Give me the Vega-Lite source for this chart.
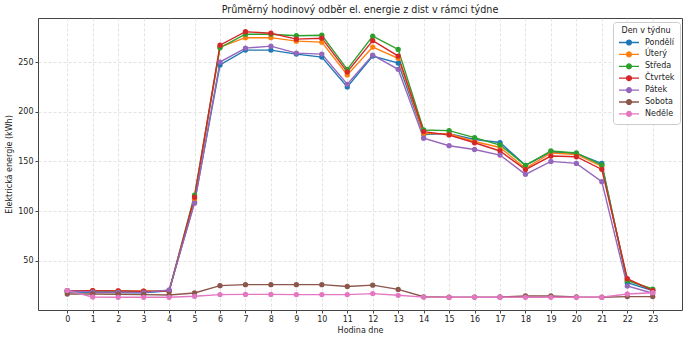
{
  "$schema": "https://vega.github.io/schema/vega-lite/v6.json",
  "autosize": {"type": "none"},
  "width": 644,
  "height": 292,
  "padding": {"left": 38, "top": 18, "right": 8, "bottom": 31},
  "background": "white",
  "title": {"text": "Průměrný hodinový odběr el. energie z dist v rámci týdne", "font": "DejaVu Sans", "fontSize": 9.6, "fontWeight": "normal", "color": "#222", "offset": 3, "anchor": "middle"},
  "config": {
    "view": {"stroke": "#444", "strokeWidth": 1},
    "axis": {"labelFont": "DejaVu Sans", "titleFont": "DejaVu Sans", "labelFontSize": 8, "titleFontSize": 8, "titleFontWeight": "normal", "labelColor": "#222", "titleColor": "#222", "tickColor": "#444", "tickSize": 3, "domain": false, "gridColor": "#cccccc", "gridDash": [3, 2], "gridOpacity": 0.8, "gridWidth": 0.7}
  },
  "data": {"values": [
    {"h":0,"d":"Pondělí","v":18.5},{"h":1,"d":"Pondělí","v":18.3},{"h":2,"d":"Pondělí","v":18},{"h":3,"d":"Pondělí","v":17.8},{"h":4,"d":"Pondělí","v":19.7},{"h":5,"d":"Pondělí","v":109},{"h":6,"d":"Pondělí","v":247},{"h":7,"d":"Pondělí","v":262},{"h":8,"d":"Pondělí","v":262},{"h":9,"d":"Pondělí","v":258},{"h":10,"d":"Pondělí","v":255},{"h":11,"d":"Pondělí","v":225},{"h":12,"d":"Pondělí","v":256},{"h":13,"d":"Pondělí","v":249},{"h":14,"d":"Pondělí","v":177},{"h":15,"d":"Pondělí","v":178},{"h":16,"d":"Pondělí","v":172},{"h":17,"d":"Pondělí","v":169},{"h":18,"d":"Pondělí","v":146},{"h":19,"d":"Pondělí","v":159.5},{"h":20,"d":"Pondělí","v":158},{"h":21,"d":"Pondělí","v":148},{"h":22,"d":"Pondělí","v":28},{"h":23,"d":"Pondělí","v":20},
    {"h":0,"d":"Úterý","v":19.5},{"h":1,"d":"Úterý","v":20},{"h":2,"d":"Úterý","v":19.7},{"h":3,"d":"Úterý","v":19.4},{"h":4,"d":"Úterý","v":19.5},{"h":5,"d":"Úterý","v":112},{"h":6,"d":"Úterý","v":265},{"h":7,"d":"Úterý","v":274.5},{"h":8,"d":"Úterý","v":274.5},{"h":9,"d":"Úterý","v":271},{"h":10,"d":"Úterý","v":270},{"h":11,"d":"Úterý","v":237},{"h":12,"d":"Úterý","v":265},{"h":13,"d":"Úterý","v":253.7},{"h":14,"d":"Úterý","v":178},{"h":15,"d":"Úterý","v":178},{"h":16,"d":"Úterý","v":170},{"h":17,"d":"Úterý","v":164},{"h":18,"d":"Úterý","v":143},{"h":19,"d":"Úterý","v":158.5},{"h":20,"d":"Úterý","v":157},{"h":21,"d":"Úterý","v":145},{"h":22,"d":"Úterý","v":31},{"h":23,"d":"Úterý","v":21},
    {"h":0,"d":"Středa","v":19.5},{"h":1,"d":"Středa","v":19.5},{"h":2,"d":"Středa","v":19.3},{"h":3,"d":"Středa","v":19},{"h":4,"d":"Středa","v":19.5},{"h":5,"d":"Středa","v":116},{"h":6,"d":"Středa","v":264.4},{"h":7,"d":"Středa","v":278},{"h":8,"d":"Středa","v":278},{"h":9,"d":"Středa","v":276.5},{"h":10,"d":"Středa","v":277},{"h":11,"d":"Středa","v":242.6},{"h":12,"d":"Středa","v":276},{"h":13,"d":"Středa","v":262.7},{"h":14,"d":"Středa","v":181.6},{"h":15,"d":"Středa","v":181},{"h":16,"d":"Středa","v":174},{"h":17,"d":"Středa","v":166.5},{"h":18,"d":"Středa","v":146},{"h":19,"d":"Středa","v":160.5},{"h":20,"d":"Středa","v":158.5},{"h":21,"d":"Středa","v":146.4},{"h":22,"d":"Středa","v":30},{"h":23,"d":"Středa","v":21.6},
    {"h":0,"d":"Čtvrtek","v":20},{"h":1,"d":"Čtvrtek","v":20},{"h":2,"d":"Čtvrtek","v":19.7},{"h":3,"d":"Čtvrtek","v":19.4},{"h":4,"d":"Čtvrtek","v":19.5},{"h":5,"d":"Čtvrtek","v":114},{"h":6,"d":"Čtvrtek","v":267},{"h":7,"d":"Čtvrtek","v":280.5},{"h":8,"d":"Čtvrtek","v":279},{"h":9,"d":"Čtvrtek","v":273},{"h":10,"d":"Čtvrtek","v":274},{"h":11,"d":"Čtvrtek","v":240},{"h":12,"d":"Čtvrtek","v":271.5},{"h":13,"d":"Čtvrtek","v":256},{"h":14,"d":"Čtvrtek","v":180},{"h":15,"d":"Čtvrtek","v":176.6},{"h":16,"d":"Čtvrtek","v":168.8},{"h":17,"d":"Čtvrtek","v":160.5},{"h":18,"d":"Čtvrtek","v":141.8},{"h":19,"d":"Čtvrtek","v":155.4},{"h":20,"d":"Čtvrtek","v":154.7},{"h":21,"d":"Čtvrtek","v":142},{"h":22,"d":"Čtvrtek","v":32},{"h":23,"d":"Čtvrtek","v":20},
    {"h":0,"d":"Pátek","v":20},{"h":1,"d":"Pátek","v":18.5},{"h":2,"d":"Pátek","v":18.3},{"h":3,"d":"Pátek","v":18},{"h":4,"d":"Pátek","v":20.7},{"h":5,"d":"Pátek","v":108},{"h":6,"d":"Pátek","v":250},{"h":7,"d":"Pátek","v":264},{"h":8,"d":"Pátek","v":266},{"h":9,"d":"Pátek","v":259},{"h":10,"d":"Pátek","v":258},{"h":11,"d":"Pátek","v":227.6},{"h":12,"d":"Pátek","v":257},{"h":13,"d":"Pátek","v":242.7},{"h":14,"d":"Pátek","v":173.3},{"h":15,"d":"Pátek","v":165.8},{"h":16,"d":"Pátek","v":162},{"h":17,"d":"Pátek","v":156.4},{"h":18,"d":"Pátek","v":137},{"h":19,"d":"Pátek","v":150},{"h":20,"d":"Pátek","v":148},{"h":21,"d":"Pátek","v":129.6},{"h":22,"d":"Pátek","v":24.6},{"h":23,"d":"Pátek","v":17.4},
    {"h":0,"d":"Sobota","v":16.6},{"h":1,"d":"Sobota","v":16.6},{"h":2,"d":"Sobota","v":16.4},{"h":3,"d":"Sobota","v":16},{"h":4,"d":"Sobota","v":15.6},{"h":5,"d":"Sobota","v":17.6},{"h":6,"d":"Sobota","v":25},{"h":7,"d":"Sobota","v":26},{"h":8,"d":"Sobota","v":26},{"h":9,"d":"Sobota","v":26},{"h":10,"d":"Sobota","v":26},{"h":11,"d":"Sobota","v":24.2},{"h":12,"d":"Sobota","v":25.5},{"h":13,"d":"Sobota","v":21.2},{"h":14,"d":"Sobota","v":13.8},{"h":15,"d":"Sobota","v":13.4},{"h":16,"d":"Sobota","v":13.5},{"h":17,"d":"Sobota","v":13.6},{"h":18,"d":"Sobota","v":14.6},{"h":19,"d":"Sobota","v":14.6},{"h":20,"d":"Sobota","v":13.6},{"h":21,"d":"Sobota","v":13.4},{"h":22,"d":"Sobota","v":14},{"h":23,"d":"Sobota","v":14},
    {"h":0,"d":"Neděle","v":20},{"h":1,"d":"Neděle","v":13.6},{"h":2,"d":"Neděle","v":13.3},{"h":3,"d":"Neděle","v":13.3},{"h":4,"d":"Neděle","v":13.3},{"h":5,"d":"Neděle","v":14.3},{"h":6,"d":"Neděle","v":16},{"h":7,"d":"Neděle","v":16.2},{"h":8,"d":"Neděle","v":16.2},{"h":9,"d":"Neděle","v":16},{"h":10,"d":"Neděle","v":16},{"h":11,"d":"Neděle","v":16},{"h":12,"d":"Neděle","v":17},{"h":13,"d":"Neděle","v":15.3},{"h":14,"d":"Neděle","v":13.5},{"h":15,"d":"Neděle","v":13.3},{"h":16,"d":"Neděle","v":13.4},{"h":17,"d":"Neděle","v":13.4},{"h":18,"d":"Neděle","v":13.3},{"h":19,"d":"Neděle","v":13.3},{"h":20,"d":"Neděle","v":13.3},{"h":21,"d":"Neděle","v":13.3},{"h":22,"d":"Neděle","v":16.6},{"h":23,"d":"Neděle","v":17.9}
  ]},
  "mark": {"type": "line", "strokeWidth": 1.4, "point": {"filled": true, "size": 28, "opacity": 1}},
  "encoding": {
    "x": {"field": "h", "type": "quantitative", "title": "Hodina dne",
      "scale": {"domain": [-1.15, 24.15], "nice": false, "zero": false},
      "axis": {"values": [0,1,2,3,4,5,6,7,8,9,10,11,12,13,14,15,16,17,18,19,20,21,22,23], "labelPadding": 2, "titlePadding": 3, "labelFlush": false}},
    "y": {"field": "v", "type": "quantitative", "title": "Elektrická energie (kWh)",
      "scale": {"domain": [0.5, 294.3], "nice": false, "zero": false},
      "axis": {"values": [50, 100, 150, 200, 250], "labelPadding": 2, "titlePadding": 4}},
    "color": {"field": "d", "type": "nominal",
      "scale": {"domain": ["Pondělí","Úterý","Středa","Čtvrtek","Pátek","Sobota","Neděle"], "range": ["#1f77b4","#ff7f0e","#2ca02c","#d62728","#9467bd","#8c564b","#e377c2"]},
      "legend": {"title": "Den v týdnu", "orient": "none", "legendX": 575, "legendY": 4,
        "titleFont": "DejaVu Sans", "titleFontSize": 8, "titleFontWeight": "normal", "titleColor": "#222", "titlePadding": 3, "titleAnchor": "middle", "titleAlign": "center",
        "labelFont": "DejaVu Sans", "labelFontSize": 8, "labelColor": "#222",
        "fillColor": "white", "strokeColor": "#cccccc", "cornerRadius": 3, "padding": 5,
        "symbolType": "M-1,0L1,0M0.24,0A0.24,0.24 0 1,1 -0.24,0A0.24,0.24 0 1,1 0.24,0Z",
        "symbolSize": 400, "symbolStrokeWidth": 1.3, "clipHeight": 9, "rowPadding": 2.9, "labelOffset": 5}},
    "order": {"field": "h", "type": "quantitative"}
  }
}
